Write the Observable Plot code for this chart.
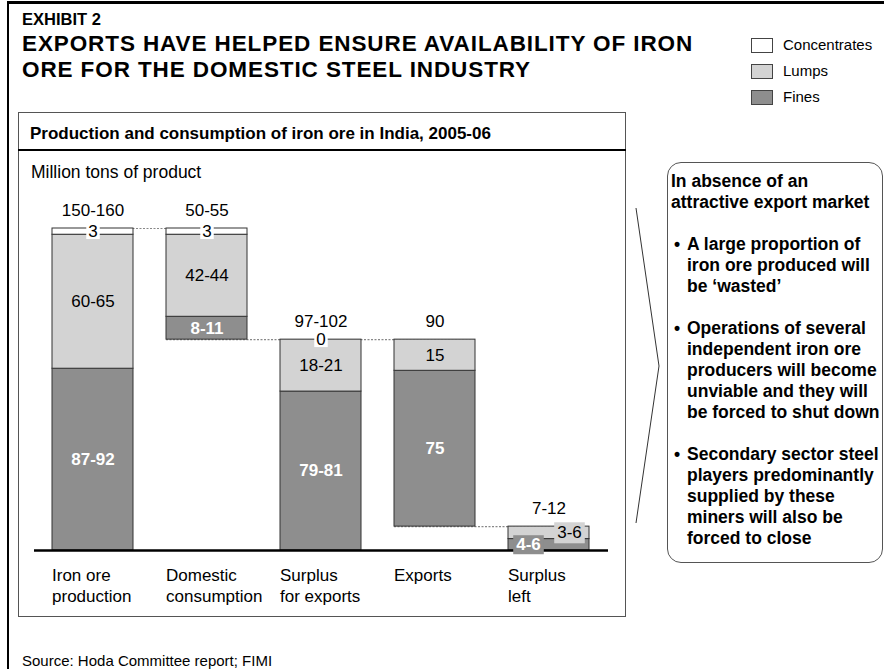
<!DOCTYPE html>
<html><head><meta charset="utf-8">
<script src="https://cdn.jsdelivr.net/npm/d3@7"></script>
<script src="https://cdn.jsdelivr.net/npm/@observablehq/plot@0.6"></script>
<style>
body{margin:0;width:884px;height:669px;position:relative;overflow:hidden;background:#fff;font-family:"Liberation Sans",Arial,Helvetica,sans-serif;color:#000;}
.abs{position:absolute;white-space:nowrap;}
.bl{position:relative;padding-left:16px;margin-top:21px;}
.bl::before{content:"\2022";position:absolute;left:3px;top:0;}
.lg-box{position:absolute;width:22px;height:15px;box-sizing:border-box;border:1px solid #444;}
.lg-txt{position:absolute;font-size:15px;line-height:20px;white-space:nowrap;}
</style></head><body>
<div style="position:absolute;left:7px;top:1px;width:877px;height:3px;background:#000"></div>
<div style="position:absolute;left:7px;top:1px;width:2px;height:668px;background:#000"></div>

<div class="abs" style="left:22px;top:9.5px;font-size:16.5px;font-weight:bold;line-height:19px">EXHIBIT 2</div>
<div class="abs" style="left:22px;top:31px;font-size:22.5px;letter-spacing:0.9px;font-weight:bold;line-height:26px">EXPORTS HAVE HELPED ENSURE AVAILABILITY OF IRON<br>ORE FOR THE DOMESTIC STEEL INDUSTRY</div>

<div id="legend"></div>

<div style="position:absolute;left:18px;top:112px;width:608px;height:505px;box-sizing:border-box;border:1.5px solid #555"></div>
<div style="position:absolute;left:18px;top:149px;width:608px;height:1.5px;background:#000"></div>
<div class="abs" style="left:30px;top:122.5px;font-size:17px;font-weight:bold;line-height:21px">Production and consumption of iron ore in India, 2005-06</div>
<div class="abs" style="left:31px;top:161.5px;font-size:17.5px;line-height:21px">Million tons of product</div>

<svg style="position:absolute;left:0;top:0" width="884" height="669"><polyline points="636,208 659,366 636,523" fill="none" stroke="#333" stroke-width="1"/></svg>

<div style="position:absolute;left:667px;top:162px;width:216px;height:401px;border:1.5px solid #555;border-radius:14px;box-sizing:border-box;"></div>
<div class="abs" style="left:671px;top:170.5px;font-size:17.5px;font-weight:bold;line-height:21px">
In absence of an<br>attractive export market
<div class="bl">A large proportion of<br>iron ore produced will<br>be ‘wasted’</div>
<div class="bl">Operations of several<br>independent iron ore<br>producers will become<br>unviable and they will<br>be forced to shut down</div>
<div class="bl">Secondary sector steel<br>players predominantly<br>supplied by these<br>miners will also be<br>forced to close</div>
</div>

<div class="abs" style="left:22px;top:652px;font-size:15px;line-height:18px">Source: Hoda Committee report; FIMI</div>

<div id="chart" style="position:absolute;left:0;top:0"></div>

<script>
// ---- data ----
const categories = ["Iron ore production", "Domestic consumption", "Surplus for exports", "Exports", "Surplus left"];
const categoryLabels = ["Iron ore\nproduction", "Domestic\nconsumption", "Surplus\nfor exports", "Exports", "Surplus\nleft"];
const types = ["Concentrates", "Lumps", "Fines"];
const typeColors = ["#ffffff", "#d3d3d3", "#8e8e8e"];
const baseValues = [0, 101.5, 0, 11.5, 0];
const finesValues = [87.5, 11, 76.5, 75, 5.5];
const lumpsValues = [64.5, 39.5, 25, 15, 6];
const concentratesValues = [3, 3, 0, 0, 0];
const totalLabels = ["150-160", "50-55", "97-102", "90", "7-12"];
const finesLabels = ["87-92", "8-11", "79-81", "75", "4-6"];
const lumpsLabels = ["60-65", "42-44", "18-21", "15", "3-6"];
const concentratesLabels = ["3", "3", "0", null, null];

// ---- legend ----
const legend = document.getElementById("legend");
types.forEach((t, i) => {
  const cy = 45 + i * 26;
  const b = document.createElement("div");
  b.className = "lg-box";
  b.style.left = "751px"; b.style.top = (cy - 7.5) + "px"; b.style.background = typeColors[i];
  const l = document.createElement("div");
  l.className = "lg-txt"; l.textContent = t;
  l.style.left = "783px"; l.style.top = (cy - 10) + "px";
  legend.appendChild(b); legend.appendChild(l);
});

// ---- derived tables ----
const segs = [];
const tops = [];
categories.forEach((c, i) => {
  let y = baseValues[i];
  [["Fines", finesValues, finesLabels], ["Lumps", lumpsValues, lumpsLabels], ["Concentrates", concentratesValues, concentratesLabels]]
    .forEach(([type, vals, labs]) => {
      const v = vals[i];
      segs.push({cat: c, type, y1: y, y2: y + v, mid: y + v / 2, label: labs[i], idx: i});
      y += v;
    });
  tops.push(y);
});
const totals = categories.map((c, i) => ({cat: c, y: tops[i], label: totalLabels[i]}));
const catText = categories.map((c, i) => ({cat: c, y: 0, label: categoryLabels[i]}));
const connectors = [
  {from: 0, to: 1, y: tops[0]},
  {from: 1, to: 2, y: baseValues[1]},
  {from: 2, to: 3, y: tops[2]},
  {from: 3, to: 4, y: baseValues[3]}
];

const W = 884, H = 669, mL = 34, mR = 276, mT = 228, mB = 119;
const pIn = 0.286, pOut = 0.143;
const bw = d3.scaleBand().domain(categories).range([mL, W - mR]).paddingInner(pIn).paddingOuter(pOut).bandwidth();
const last = categories.length - 1;

const chart = Plot.plot({
  width: W, height: H,
  marginLeft: mL, marginRight: mR, marginTop: mT, marginBottom: mB,
  style: {background: "transparent", fontFamily: "'Liberation Sans', Arial, Helvetica, sans-serif", fontSize: "17px", overflow: "visible", color: "#000"},
  x: {type: "band", domain: categories, paddingInner: pIn, paddingOuter: pOut, axis: null},
  y: {domain: [0, 155], axis: null},
  color: {domain: types, range: typeColors},
  marks: [
    Plot.ruleY(connectors, {x1: d => categories[d.from], x2: d => categories[d.to], y: "y", stroke: "#888", strokeWidth: 1.2, strokeDasharray: "2,1.5"}),
    Plot.barY(segs.filter(d => d.y2 > d.y1), {x: "cat", y1: "y1", y2: "y2", fill: "type", stroke: "#333", strokeWidth: 1}),
    Plot.ruleY([0], {stroke: "#000", strokeWidth: 2.5}),
    Plot.text(totals, {x: "cat", y: "y", text: "label", dy: -18, fontSize: 17, fill: "#000"}),
    Plot.text(segs.filter(d => d.type === "Lumps" && d.idx < last), {x: "cat", y: "mid", text: "label", fontSize: 17, fill: "#000"}),
    Plot.text(segs.filter(d => d.type === "Fines" && d.idx < last), {x: "cat", y: "mid", text: "label", fontSize: 17, fontWeight: "bold", fill: "#fff"}),
    Plot.text(segs.filter(d => d.type === "Concentrates" && d.label != null), {x: "cat", y: "mid", text: "label", fontSize: 17, fill: "#000", ariaDescription: "box-white"}),
    Plot.text(segs.filter(d => d.type === "Lumps" && d.idx === last), {x: "cat", y: "mid", text: "label", dx: 20.5, fontSize: 17, fill: "#000", ariaDescription: "box-light"}),
    Plot.text(segs.filter(d => d.type === "Fines" && d.idx === last), {x: "cat", y: "mid", text: "label", dx: -20.5, fontSize: 17, fontWeight: "bold", fill: "#fff", ariaDescription: "box-dark"}),
    Plot.text(catText, {x: "cat", y: "y", text: "label", textAnchor: "start", dx: -bw / 2, lineAnchor: "top", dy: 16, lineHeight: 21 / 17, fontSize: 17, fill: "#000"})
  ]
});
document.getElementById("chart").appendChild(chart);

function boxLabels(desc, fill, padX, padTop, padBottom) {
  chart.querySelectorAll(`g[aria-description="${desc}"] text`).forEach(t => {
    const b = t.getBBox();
    const r = document.createElementNS("http://www.w3.org/2000/svg", "rect");
    r.setAttribute("x", b.x - padX);
    r.setAttribute("y", b.y - padTop);
    r.setAttribute("width", b.width + 2 * padX);
    r.setAttribute("height", b.height + padTop + padBottom);
    r.setAttribute("fill", fill);
    r.setAttribute("stroke", "none");
    if (t.getAttribute("transform")) r.setAttribute("transform", t.getAttribute("transform"));
    t.parentNode.insertBefore(r, t);
  });
}
boxLabels("box-white", "#ffffff", 2, -1, -2);
boxLabels("box-light", "#d3d3d3", 3, 1, 1);
boxLabels("box-dark", "#8e8e8e", 3, 0, 0);
</script>
</body></html>
